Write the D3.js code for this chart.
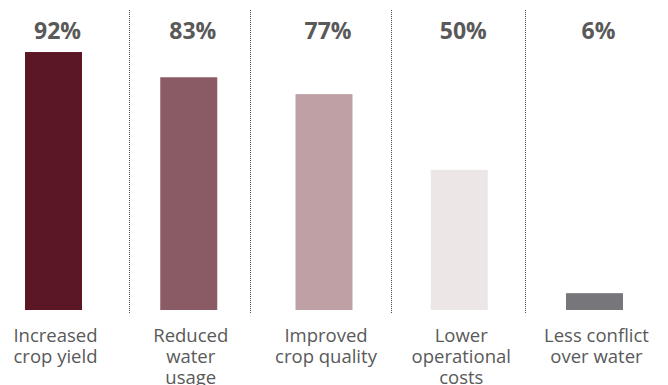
<!DOCTYPE html>
<html>
<head>
<meta charset="utf-8">
<script src="https://cdn.jsdelivr.net/npm/d3@7"></script>
<style>
  html, body { margin: 0; padding: 0; background: #ffffff; }
  svg { display: block; }
</style>
</head>
<body>
<svg id="chart" width="668" height="385"></svg>
<script>
// Benefits reported, share of respondents (%)
const categories = [
  ["Increased", "crop yield"],
  ["Reduced", "water", "usage"],
  ["Improved", "crop quality"],
  ["Lower", "operational", "costs"],
  ["Less conflict", "over water"]
];
const values = [92, 83, 77, 50, 6];
const valueLabels = ["92%", "83%", "77%", "50%", "6%"];
const barColors = ["#5b1723", "#8a5b65", "#bfa1a5", "#ede6e7", "#77777b"];

const svg = d3.select("#chart");
const W = 668, H = 385;
const barWidth = 57;
const textColor = "#595959";

const idx = d3.range(categories.length);
// centre of each bar along x
const x = d3.scaleLinear().domain([0, categories.length - 1]).range([53.5, 594.5]);
const y = d3.scaleLinear().domain([0, 100]).range([310, 29.6]);

// dotted dividers between groups
const dividerAt = [0.556, 1.453, 2.495, 3.486];
svg.append("g")
  .selectAll("line")
  .data(dividerAt)
  .join("line")
  .attr("x1", d => Math.round(x(d)) + 0.5)
  .attr("x2", d => Math.round(x(d)) + 0.5)
  .attr("y1", 10)
  .attr("y2", 313)
  .attr("stroke", "#4a4a4a")
  .attr("stroke-width", 1)
  .attr("stroke-dasharray", "1,1");

// bars
svg.append("g")
  .selectAll("rect")
  .data(idx)
  .join("rect")
  .attr("x", i => x(i) - barWidth / 2)
  .attr("width", barWidth)
  .attr("y", i => y(values[i]))
  .attr("height", i => y(0) - y(values[i]))
  .attr("fill", i => barColors[i]);

// value labels across the top
svg.append("g")
  .selectAll("text")
  .data(idx)
  .join("text")
  .attr("x", i => x(i) + 4)
  .attr("y", 38.5)
  .attr("text-anchor", "middle")
  .attr("font-family", "'Open Sans', sans-serif")
  .attr("font-weight", 700)
  .attr("font-size", 23)
  .attr("fill", textColor)
  .text(i => valueLabels[i]);

// category labels beneath the bars
const cat = svg.append("g")
  .selectAll("text")
  .data(idx)
  .join("text")
  .attr("x", i => x(i) + 2)
  .attr("y", 342.3)
  .attr("text-anchor", "middle")
  .attr("font-family", "'Open Sans', sans-serif")
  .attr("font-size", 18.5)
  .attr("fill", textColor);

cat.selectAll("tspan")
  .data(i => categories[i].map((t, k) => ({ t, k, i })))
  .join("tspan")
  .attr("x", d => x(d.i) + 2)
  .attr("dy", d => d.k === 0 ? 0 : 20.7)
  .text(d => d.t);
</script>
</body>
</html>
